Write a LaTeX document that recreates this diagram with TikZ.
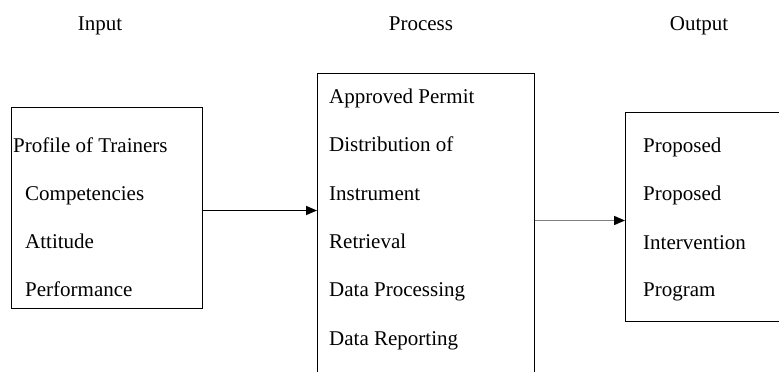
\documentclass[tikz,border=0pt]{standalone}
\usepackage{fontspec}
\setmainfont{Liberation Serif}
\usetikzlibrary{arrows.meta}
\begin{document}
\begin{tikzpicture}[x=1pt, y=-1pt,
    box/.style={draw, line width=1pt, inner sep=0pt},
    txt/.style={anchor=base west, inner sep=0pt, font=\fontsize{21}{25}\selectfont},
    head/.style={anchor=base, inner sep=0pt, font=\fontsize{21}{25}\selectfont},
    arr/.style={-{Triangle[length=11pt,width=9pt,color=black]}, line width=1.6pt}]
  \useasboundingbox (0,0) rectangle (779,372);

  %%titles
  \node[head] (tin) at (100,30) {Input};
  \node[head] (tproc) at (421,30) {Process};
  \node[head] (tout) at (699,30) {Output};

  %%boxes
  \node[box, anchor=north west, minimum width=191pt, minimum height=201pt] (input) at (11,107) {};
  \node[box, anchor=north west, minimum width=217pt, minimum height=317pt] (process) at (317,73) {};
  \node[box, anchor=north west, minimum width=165pt, minimum height=209pt] (output) at (625,112) {};

  %%input
  \node[txt] (in1) at (13,152) {Profile of Trainers};
  \node[txt] (in2) at (25,200) {Competencies};
  \node[txt] (in3) at (25,248) {Attitude};
  \node[txt] (in4) at (25,296) {Performance};

  %%process
  \node[txt] (pr1) at (329,103) {Approved Permit};
  \node[txt] (pr2) at (329,151) {Distribution of};
  \node[txt] (pr3) at (329,200) {Instrument};
  \node[txt] (pr4) at (329,248) {Retrieval};
  \node[txt] (pr5) at (329,296) {Data Processing};
  \node[txt] (pr6) at (329,345) {Data Reporting};

  %%output
  \node[txt] (ou1) at (643,152) {Proposed};
  \node[txt] (ou2) at (643,200) {Proposed};
  \node[txt] (ou3) at (643,249) {Intervention};
  \node[txt] (ou4) at (643,296) {Program};

  %%arrows
  \coordinate (a1) at ([yshift=-2.5pt]input.east);
  \coordinate (a2) at ([yshift=-3.5pt]output.west);
  \draw[arr] (a1) -- (a1 -| process.west);
  \draw[arr, draw=gray] (a2 -| process.east) -- (a2);
\end{tikzpicture}
\end{document}
